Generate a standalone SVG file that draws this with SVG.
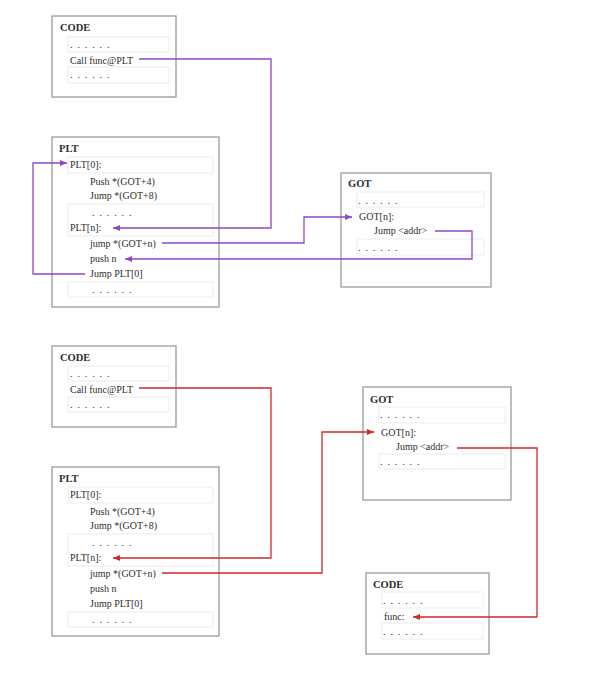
<svg xmlns="http://www.w3.org/2000/svg" width="604" height="678" viewBox="0 0 604 678">
<style>
.box{fill:#fff;stroke:#9a9a9a;stroke-width:1.3}
.row{fill:#fff;stroke:#ececec;stroke-width:1}
.t{font-family:"Liberation Serif",serif;font-size:10px;fill:#2e2e2e}
.d{font-family:"Liberation Serif",serif;font-size:10px;fill:#2e2e2e;letter-spacing:1.2px}
.h{font-family:"Liberation Serif",serif;font-size:10.5px;font-weight:bold;fill:#2e2e2e}
.p{fill:none;stroke:#9146c8;stroke-width:1.3}
.r{fill:none;stroke:#d02a2a;stroke-width:1.3}
</style>
<defs>
<marker id="ap" markerUnits="userSpaceOnUse" markerWidth="8" markerHeight="6" refX="7" refY="3" orient="auto"><path d="M0,0 L7,3 L0,6 z" fill="#9146c8"/></marker>
<marker id="ar" markerUnits="userSpaceOnUse" markerWidth="8" markerHeight="6" refX="7" refY="3" orient="auto"><path d="M0,0 L7,3 L0,6 z" fill="#d02a2a"/></marker>
</defs>
<rect width="604" height="678" fill="#fff"/>

<g id="code1">
<rect class="box" x="52" y="16" width="124" height="81"/>
<text class="h" x="60" y="31">CODE</text>
<rect class="row" x="68" y="37" width="101" height="15"/>
<text class="d" x="70" y="48">. . . . . .</text>
<text class="t" x="70" y="64">Call func@PLT</text>
<rect class="row" x="68" y="67" width="101" height="16"/>
<text class="d" x="70" y="78">. . . . . .</text>
</g>

<g id="plt1">
<rect class="box" x="52" y="137" width="167" height="170"/>
<text class="h" x="59" y="152">PLT</text>
<rect class="row" x="68" y="157" width="145" height="16"/>
<text class="t" x="70" y="168">PLT[0]:</text>
<text class="t" x="90" y="185">Push *(GOT+4)</text>
<text class="t" x="90" y="199">Jump *(GOT+8)</text>
<rect class="row" x="68" y="204" width="145" height="32"/>
<text class="d" x="92" y="216">. . . . . .</text>
<text class="t" x="70" y="231">PLT[n]:</text>
<text class="t" x="90" y="247">jump *(GOT+n)</text>
<text class="t" x="90" y="262">push n</text>
<text class="t" x="90" y="277">Jump PLT[0]</text>
<rect class="row" x="68" y="282" width="145" height="15"/>
<text class="d" x="92" y="293">. . . . . .</text>
</g>

<g id="got1">
<rect class="box" x="341" y="173" width="150" height="114"/>
<text class="h" x="348" y="187">GOT</text>
<rect class="row" x="357" y="192" width="127" height="15"/>
<text class="d" x="358" y="204">. . . . . .</text>
<text class="t" x="359" y="220">GOT[n]:</text>
<text class="t" x="374" y="234">Jump &lt;addr&gt;</text>
<rect class="row" x="357" y="239" width="127" height="16"/>
<text class="d" x="358" y="251">. . . . . .</text>
</g>

<g id="code2">
<rect class="box" x="52" y="346" width="124" height="81"/>
<text class="h" x="60" y="361">CODE</text>
<rect class="row" x="68" y="366" width="101" height="15"/>
<text class="d" x="70" y="377">. . . . . .</text>
<text class="t" x="70" y="393">Call func@PLT</text>
<rect class="row" x="68" y="397" width="101" height="15"/>
<text class="d" x="70" y="408">. . . . . .</text>
</g>

<g id="plt2">
<rect class="box" x="52" y="467" width="167" height="169"/>
<text class="h" x="59" y="482">PLT</text>
<rect class="row" x="68" y="487" width="145" height="16"/>
<text class="t" x="70" y="498">PLT[0]:</text>
<text class="t" x="90" y="515">Push *(GOT+4)</text>
<text class="t" x="90" y="529">Jump *(GOT+8)</text>
<rect class="row" x="68" y="534" width="145" height="32"/>
<text class="d" x="92" y="546">. . . . . .</text>
<text class="t" x="70" y="561">PLT[n]:</text>
<text class="t" x="90" y="577">jump *(GOT+n)</text>
<text class="t" x="90" y="592">push n</text>
<text class="t" x="90" y="607">Jump PLT[0]</text>
<rect class="row" x="68" y="612" width="145" height="15"/>
<text class="d" x="92" y="623">. . . . . .</text>
</g>

<g id="got2">
<rect class="box" x="363" y="387" width="148" height="113"/>
<text class="h" x="370" y="403">GOT</text>
<rect class="row" x="379" y="407" width="126" height="16"/>
<text class="d" x="380" y="418">. . . . . .</text>
<text class="t" x="381" y="436">GOT[n]:</text>
<text class="t" x="396" y="450">Jump &lt;addr&gt;</text>
<rect class="row" x="379" y="454" width="126" height="15"/>
<text class="d" x="380" y="465">. . . . . .</text>
</g>

<g id="code3">
<rect class="box" x="366" y="573" width="123" height="81"/>
<text class="h" x="373" y="588">CODE</text>
<rect class="row" x="382" y="592" width="101" height="16"/>
<text class="d" x="383" y="604">. . . . . .</text>
<text class="t" x="384" y="620">func:</text>
<rect class="row" x="382" y="623" width="101" height="16"/>
<text class="d" x="383" y="635">. . . . . .</text>
</g>

<g id="connectors">
<path class="p" d="M139,59 H271 V228 H113" marker-end="url(#ap)"/>
<path class="p" d="M85,274 H33 V163 H67" marker-end="url(#ap)"/>
<path class="p" d="M162,243 H304 V217 H352" marker-end="url(#ap)"/>
<path class="p" d="M435,231 H472 V259 H125" marker-end="url(#ap)"/>
<path class="r" d="M139,388 H271 V558 H113" marker-end="url(#ar)"/>
<path class="r" d="M162,573 H322 V432 H374" marker-end="url(#ar)"/>
<path class="r" d="M457,448 H537 V617 H413" marker-end="url(#ar)"/>
</g>
</svg>
